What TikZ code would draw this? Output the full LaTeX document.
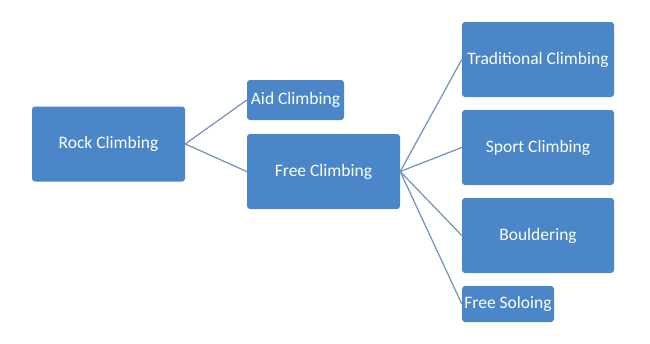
\documentclass[tikz,border=0pt]{standalone}
\usepackage{fontspec}
\setmainfont{Carlito}
\usepackage{xcolor}
\usetikzlibrary{positioning}
\definecolor{boxblue}{HTML}{4A86C8}
\definecolor{linkblue}{HTML}{7291B8}

\begin{document}
\begin{tikzpicture}[
    x=1pt, y=-1pt,
    box/.style={rectangle, rounded corners=3pt, fill=boxblue, text=white, inner sep=1pt,
        font=\fontsize{17.5}{20}\selectfont, minimum width=153pt, minimum height=75pt, align=center},
    small/.style={box, minimum width=97pt, minimum height=40pt},
    link/.style={draw=linkblue, line width=1.2pt}
]
\useasboundingbox (0,0) rectangle (650,343);
\node[box] (rock) at (108.5,144) {Rock Climbing};
\node[small] (aid) at (295.5,100) {Aid Climbing};
\node[box] (free) at (323.5,171.5) {Free Climbing};
\node[box, minimum width=152pt] (trad) at (538,59.5) {Traditional Climbing};
\node[box, minimum width=152pt] (sport) at (538,147.5) {Sport Climbing};
\node[box, minimum width=152pt] (bould) at (538,235.5) {Bouldering};
\node[small, minimum width=92pt, minimum height=36pt] (solo) at (508,304) {Free Soloing};

\draw[link] (rock.east) -- (aid.west);
\draw[link] (rock.east) -- (free.west);
\draw[link] (free.east) -- (trad.west);
\draw[link] (free.east) -- (sport.west);
\draw[link] (free.east) -- (bould.west);
\draw[link] (free.east) -- (solo.west);
\end{tikzpicture}
\end{document}
